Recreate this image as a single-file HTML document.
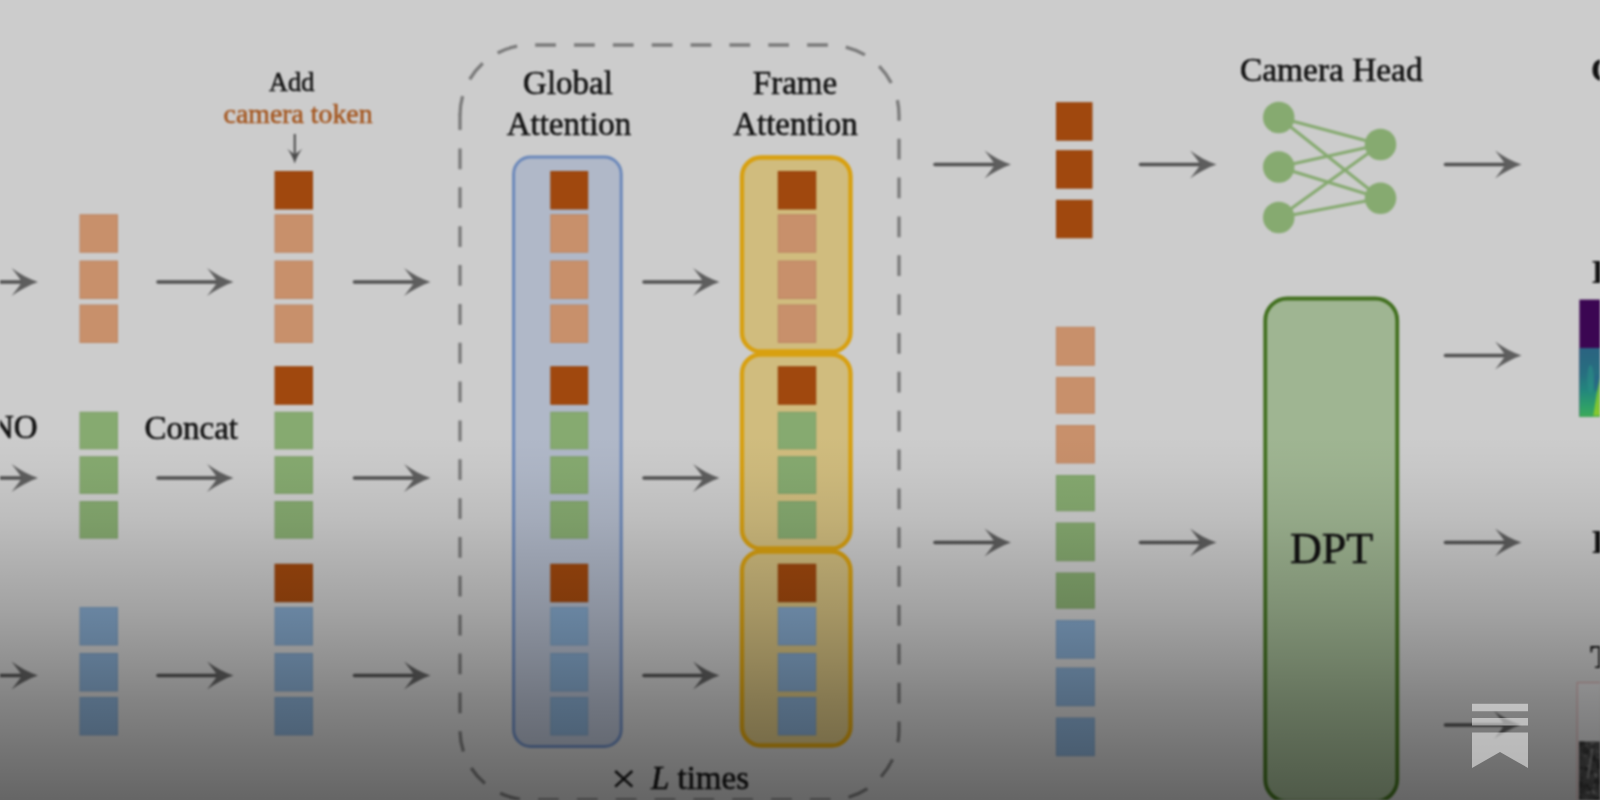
<!DOCTYPE html>
<html><head><meta charset="utf-8"><title>diagram</title>
<style>
html,body{margin:0;padding:0;background:#cccccc;}
body{width:1600px;height:800px;overflow:hidden;position:relative;font-family:"Liberation Serif",serif;}
svg{position:absolute;left:0;top:0;display:block;}
#main{filter:blur(0.8px);}
#shade{position:absolute;left:0;top:0;width:1600px;height:800px;
background:linear-gradient(to bottom, rgba(0,0,0,0) 0px, rgba(0,0,0,0) 436px, rgba(0,0,0,0.025) 470px, rgba(0,0,0,0.075) 520px, rgba(0,0,0,0.135) 560px, rgba(0,0,0,0.205) 610px, rgba(0,0,0,0.285) 660px, rgba(0,0,0,0.355) 700px, rgba(0,0,0,0.43) 750px, rgba(0,0,0,0.50) 800px);}
</style></head>
<body>
<svg id="main" width="1600" height="800" viewBox="0 0 1600 800">
<defs>
<linearGradient id="depth" x1="0" y1="0" x2="0" y2="1">
<stop offset="0" stop-color="#2b6381"/><stop offset="0.38" stop-color="#276f80"/><stop offset="0.62" stop-color="#23877d"/><stop offset="0.85" stop-color="#2e9f69"/><stop offset="1" stop-color="#3daa5a"/>
</linearGradient>
<linearGradient id="depth2" x1="0" y1="0" x2="0" y2="1">
<stop offset="0" stop-color="#4fb052"/><stop offset="0.5" stop-color="#74c03a"/><stop offset="1" stop-color="#8ac92e"/>
</linearGradient>
<clipPath id="dk"><rect x="1579" y="741.6" width="22" height="60"/></clipPath>
</defs>
<rect x="0" y="0" width="1600" height="800" fill="#cccccc"/>
<rect x="80.10" y="214.85" width="37.30" height="37.30" fill="#c8906b" stroke="#be8865" stroke-width="1.2"/>
<rect x="80.10" y="261.10" width="37.30" height="37.30" fill="#c8906b" stroke="#be8865" stroke-width="1.2"/>
<rect x="80.10" y="305.10" width="37.30" height="37.30" fill="#c8906b" stroke="#be8865" stroke-width="1.2"/>
<rect x="80.10" y="412.35" width="37.30" height="36.40" fill="#86aa70" stroke="#7fa16a" stroke-width="1.2"/>
<rect x="80.10" y="456.85" width="37.30" height="36.40" fill="#86aa70" stroke="#7fa16a" stroke-width="1.2"/>
<rect x="80.10" y="501.70" width="37.30" height="36.40" fill="#86aa70" stroke="#7fa16a" stroke-width="1.2"/>
<rect x="80.10" y="607.60" width="37.30" height="37.30" fill="#83a6c9" stroke="#7c9dbe" stroke-width="1.2"/>
<rect x="80.10" y="653.60" width="37.30" height="37.30" fill="#83a6c9" stroke="#7c9dbe" stroke-width="1.2"/>
<rect x="80.10" y="697.60" width="37.30" height="37.30" fill="#83a6c9" stroke="#7c9dbe" stroke-width="1.2"/>
<rect x="275.10" y="171.60" width="37.30" height="37.30" fill="#a0480e" stroke="#98440d" stroke-width="1.2"/>
<rect x="275.10" y="214.85" width="37.30" height="37.30" fill="#c8906b" stroke="#be8865" stroke-width="1.2"/>
<rect x="275.10" y="261.10" width="37.30" height="37.30" fill="#c8906b" stroke="#be8865" stroke-width="1.2"/>
<rect x="275.10" y="305.10" width="37.30" height="37.30" fill="#c8906b" stroke="#be8865" stroke-width="1.2"/>
<rect x="275.10" y="366.85" width="37.30" height="37.30" fill="#a0480e" stroke="#98440d" stroke-width="1.2"/>
<rect x="275.10" y="412.35" width="37.30" height="36.40" fill="#86aa70" stroke="#7fa16a" stroke-width="1.2"/>
<rect x="275.10" y="456.85" width="37.30" height="36.40" fill="#86aa70" stroke="#7fa16a" stroke-width="1.2"/>
<rect x="275.10" y="501.70" width="37.30" height="36.40" fill="#86aa70" stroke="#7fa16a" stroke-width="1.2"/>
<rect x="275.10" y="564.35" width="37.30" height="37.30" fill="#a0480e" stroke="#98440d" stroke-width="1.2"/>
<rect x="275.10" y="607.60" width="37.30" height="37.30" fill="#83a6c9" stroke="#7c9dbe" stroke-width="1.2"/>
<rect x="275.10" y="653.60" width="37.30" height="37.30" fill="#83a6c9" stroke="#7c9dbe" stroke-width="1.2"/>
<rect x="275.10" y="697.60" width="37.30" height="37.30" fill="#83a6c9" stroke="#7c9dbe" stroke-width="1.2"/>
<line x1="-18.00" y1="282.00" x2="27.50" y2="282.00" stroke="#505050" stroke-width="3.6" stroke-linecap="round"/>
<path transform="translate(37.50,282.00)" d="M0.5,0 C-8,-3 -18,-8 -26,-14 C-21.5,-8.5 -17.5,-3.5 -16,0 C-17.5,3.5 -21.5,8.5 -26,14 C-18,8 -8,3 0.5,0 Z" fill="#5e5e5e"/>
<line x1="158.00" y1="282.00" x2="223.00" y2="282.00" stroke="#505050" stroke-width="3.6" stroke-linecap="round"/>
<path transform="translate(233.00,282.00)" d="M0.5,0 C-8,-3 -18,-8 -26,-14 C-21.5,-8.5 -17.5,-3.5 -16,0 C-17.5,3.5 -21.5,8.5 -26,14 C-18,8 -8,3 0.5,0 Z" fill="#5e5e5e"/>
<line x1="354.50" y1="282.00" x2="420.00" y2="282.00" stroke="#505050" stroke-width="3.6" stroke-linecap="round"/>
<path transform="translate(430.00,282.00)" d="M0.5,0 C-8,-3 -18,-8 -26,-14 C-21.5,-8.5 -17.5,-3.5 -16,0 C-17.5,3.5 -21.5,8.5 -26,14 C-18,8 -8,3 0.5,0 Z" fill="#5e5e5e"/>
<line x1="644.00" y1="282.00" x2="709.00" y2="282.00" stroke="#505050" stroke-width="3.6" stroke-linecap="round"/>
<path transform="translate(719.00,282.00)" d="M0.5,0 C-8,-3 -18,-8 -26,-14 C-21.5,-8.5 -17.5,-3.5 -16,0 C-17.5,3.5 -21.5,8.5 -26,14 C-18,8 -8,3 0.5,0 Z" fill="#5e5e5e"/>
<line x1="-18.00" y1="478.00" x2="27.50" y2="478.00" stroke="#505050" stroke-width="3.6" stroke-linecap="round"/>
<path transform="translate(37.50,478.00)" d="M0.5,0 C-8,-3 -18,-8 -26,-14 C-21.5,-8.5 -17.5,-3.5 -16,0 C-17.5,3.5 -21.5,8.5 -26,14 C-18,8 -8,3 0.5,0 Z" fill="#5e5e5e"/>
<line x1="158.00" y1="478.00" x2="223.00" y2="478.00" stroke="#505050" stroke-width="3.6" stroke-linecap="round"/>
<path transform="translate(233.00,478.00)" d="M0.5,0 C-8,-3 -18,-8 -26,-14 C-21.5,-8.5 -17.5,-3.5 -16,0 C-17.5,3.5 -21.5,8.5 -26,14 C-18,8 -8,3 0.5,0 Z" fill="#5e5e5e"/>
<line x1="354.50" y1="478.00" x2="420.00" y2="478.00" stroke="#505050" stroke-width="3.6" stroke-linecap="round"/>
<path transform="translate(430.00,478.00)" d="M0.5,0 C-8,-3 -18,-8 -26,-14 C-21.5,-8.5 -17.5,-3.5 -16,0 C-17.5,3.5 -21.5,8.5 -26,14 C-18,8 -8,3 0.5,0 Z" fill="#5e5e5e"/>
<line x1="644.00" y1="478.00" x2="709.00" y2="478.00" stroke="#505050" stroke-width="3.6" stroke-linecap="round"/>
<path transform="translate(719.00,478.00)" d="M0.5,0 C-8,-3 -18,-8 -26,-14 C-21.5,-8.5 -17.5,-3.5 -16,0 C-17.5,3.5 -21.5,8.5 -26,14 C-18,8 -8,3 0.5,0 Z" fill="#5e5e5e"/>
<line x1="-18.00" y1="675.50" x2="27.50" y2="675.50" stroke="#505050" stroke-width="3.6" stroke-linecap="round"/>
<path transform="translate(37.50,675.50)" d="M0.5,0 C-8,-3 -18,-8 -26,-14 C-21.5,-8.5 -17.5,-3.5 -16,0 C-17.5,3.5 -21.5,8.5 -26,14 C-18,8 -8,3 0.5,0 Z" fill="#5e5e5e"/>
<line x1="158.00" y1="675.50" x2="223.00" y2="675.50" stroke="#505050" stroke-width="3.6" stroke-linecap="round"/>
<path transform="translate(233.00,675.50)" d="M0.5,0 C-8,-3 -18,-8 -26,-14 C-21.5,-8.5 -17.5,-3.5 -16,0 C-17.5,3.5 -21.5,8.5 -26,14 C-18,8 -8,3 0.5,0 Z" fill="#5e5e5e"/>
<line x1="354.50" y1="675.50" x2="420.00" y2="675.50" stroke="#505050" stroke-width="3.6" stroke-linecap="round"/>
<path transform="translate(430.00,675.50)" d="M0.5,0 C-8,-3 -18,-8 -26,-14 C-21.5,-8.5 -17.5,-3.5 -16,0 C-17.5,3.5 -21.5,8.5 -26,14 C-18,8 -8,3 0.5,0 Z" fill="#5e5e5e"/>
<line x1="644.00" y1="675.50" x2="709.00" y2="675.50" stroke="#505050" stroke-width="3.6" stroke-linecap="round"/>
<path transform="translate(719.00,675.50)" d="M0.5,0 C-8,-3 -18,-8 -26,-14 C-21.5,-8.5 -17.5,-3.5 -16,0 C-17.5,3.5 -21.5,8.5 -26,14 C-18,8 -8,3 0.5,0 Z" fill="#5e5e5e"/>
<path d="M460,148.5 V730 A70,70 0 0 0 530,800 H829 A70,70 0 0 0 899,730 V115 A70,70 0 0 0 829,45 H530 A70,70 0 0 0 460,115" fill="none" stroke="#7a7a7a" stroke-width="3.3" stroke-dasharray="20.75 18.1"/>
<line x1="460" y1="114" x2="460" y2="130" stroke="#7a7a7a" stroke-width="3.3"/>
<rect x="513.6" y="157" width="107.6" height="589.5" rx="17" ry="17" fill="#b0b8c8" stroke="#6b88ba" stroke-width="3"/>
<rect x="550.90" y="171.60" width="36.70" height="37.30" fill="#a0480e" stroke="#98440d" stroke-width="1.2"/>
<rect x="550.90" y="214.85" width="36.70" height="37.30" fill="#c8906b" stroke="#be8865" stroke-width="1.2"/>
<rect x="550.90" y="261.10" width="36.70" height="37.30" fill="#c8906b" stroke="#be8865" stroke-width="1.2"/>
<rect x="550.90" y="305.10" width="36.70" height="37.30" fill="#c8906b" stroke="#be8865" stroke-width="1.2"/>
<rect x="550.90" y="366.85" width="36.70" height="37.30" fill="#a0480e" stroke="#98440d" stroke-width="1.2"/>
<rect x="550.90" y="412.35" width="36.70" height="36.40" fill="#86aa70" stroke="#7fa16a" stroke-width="1.2"/>
<rect x="550.90" y="456.85" width="36.70" height="36.40" fill="#86aa70" stroke="#7fa16a" stroke-width="1.2"/>
<rect x="550.90" y="501.70" width="36.70" height="36.40" fill="#86aa70" stroke="#7fa16a" stroke-width="1.2"/>
<rect x="550.90" y="564.35" width="36.70" height="37.30" fill="#a0480e" stroke="#98440d" stroke-width="1.2"/>
<rect x="550.90" y="607.60" width="36.70" height="37.30" fill="#83a6c9" stroke="#7c9dbe" stroke-width="1.2"/>
<rect x="550.90" y="653.60" width="36.70" height="37.30" fill="#83a6c9" stroke="#7c9dbe" stroke-width="1.2"/>
<rect x="550.90" y="697.60" width="36.70" height="37.30" fill="#83a6c9" stroke="#7c9dbe" stroke-width="1.2"/>
<rect x="742" y="157.5" width="108.5" height="194" rx="19" ry="19" fill="#d0bc7e" stroke="#d8a010" stroke-width="4.3"/>
<rect x="742" y="354.5" width="108.5" height="194" rx="19" ry="19" fill="#d0bc7e" stroke="#d8a010" stroke-width="4.3"/>
<rect x="742" y="551.5" width="108.5" height="194" rx="19" ry="19" fill="#d0bc7e" stroke="#d8a010" stroke-width="4.3"/>
<rect x="778.35" y="171.60" width="37.30" height="37.30" fill="#a0480e" stroke="#98440d" stroke-width="1.2"/>
<rect x="778.35" y="214.85" width="37.30" height="37.30" fill="#c8906b" stroke="#be8865" stroke-width="1.2"/>
<rect x="778.35" y="261.10" width="37.30" height="37.30" fill="#c8906b" stroke="#be8865" stroke-width="1.2"/>
<rect x="778.35" y="305.10" width="37.30" height="37.30" fill="#c8906b" stroke="#be8865" stroke-width="1.2"/>
<rect x="778.35" y="366.85" width="37.30" height="37.30" fill="#a0480e" stroke="#98440d" stroke-width="1.2"/>
<rect x="778.35" y="412.35" width="37.30" height="36.40" fill="#86aa70" stroke="#7fa16a" stroke-width="1.2"/>
<rect x="778.35" y="456.85" width="37.30" height="36.40" fill="#86aa70" stroke="#7fa16a" stroke-width="1.2"/>
<rect x="778.35" y="501.70" width="37.30" height="36.40" fill="#86aa70" stroke="#7fa16a" stroke-width="1.2"/>
<rect x="778.35" y="564.35" width="37.30" height="37.30" fill="#a0480e" stroke="#98440d" stroke-width="1.2"/>
<rect x="778.35" y="607.60" width="37.30" height="37.30" fill="#83a6c9" stroke="#7c9dbe" stroke-width="1.2"/>
<rect x="778.35" y="653.60" width="37.30" height="37.30" fill="#83a6c9" stroke="#7c9dbe" stroke-width="1.2"/>
<rect x="778.35" y="697.60" width="37.30" height="37.30" fill="#83a6c9" stroke="#7c9dbe" stroke-width="1.2"/>
<line x1="935.00" y1="164.50" x2="1000.50" y2="164.50" stroke="#505050" stroke-width="3.6" stroke-linecap="round"/>
<path transform="translate(1010.50,164.50)" d="M0.5,0 C-8,-3 -18,-8 -26,-14 C-21.5,-8.5 -17.5,-3.5 -16,0 C-17.5,3.5 -21.5,8.5 -26,14 C-18,8 -8,3 0.5,0 Z" fill="#5e5e5e"/>
<line x1="1140.50" y1="164.50" x2="1206.00" y2="164.50" stroke="#505050" stroke-width="3.6" stroke-linecap="round"/>
<path transform="translate(1216.00,164.50)" d="M0.5,0 C-8,-3 -18,-8 -26,-14 C-21.5,-8.5 -17.5,-3.5 -16,0 C-17.5,3.5 -21.5,8.5 -26,14 C-18,8 -8,3 0.5,0 Z" fill="#5e5e5e"/>
<line x1="935.00" y1="542.50" x2="1000.50" y2="542.50" stroke="#505050" stroke-width="3.6" stroke-linecap="round"/>
<path transform="translate(1010.50,542.50)" d="M0.5,0 C-8,-3 -18,-8 -26,-14 C-21.5,-8.5 -17.5,-3.5 -16,0 C-17.5,3.5 -21.5,8.5 -26,14 C-18,8 -8,3 0.5,0 Z" fill="#5e5e5e"/>
<line x1="1140.50" y1="542.50" x2="1206.00" y2="542.50" stroke="#505050" stroke-width="3.6" stroke-linecap="round"/>
<path transform="translate(1216.00,542.50)" d="M0.5,0 C-8,-3 -18,-8 -26,-14 C-21.5,-8.5 -17.5,-3.5 -16,0 C-17.5,3.5 -21.5,8.5 -26,14 C-18,8 -8,3 0.5,0 Z" fill="#5e5e5e"/>
<line x1="1445.50" y1="164.50" x2="1511.00" y2="164.50" stroke="#505050" stroke-width="3.6" stroke-linecap="round"/>
<path transform="translate(1521.00,164.50)" d="M0.5,0 C-8,-3 -18,-8 -26,-14 C-21.5,-8.5 -17.5,-3.5 -16,0 C-17.5,3.5 -21.5,8.5 -26,14 C-18,8 -8,3 0.5,0 Z" fill="#5e5e5e"/>
<line x1="1445.50" y1="355.50" x2="1511.00" y2="355.50" stroke="#505050" stroke-width="3.6" stroke-linecap="round"/>
<path transform="translate(1521.00,355.50)" d="M0.5,0 C-8,-3 -18,-8 -26,-14 C-21.5,-8.5 -17.5,-3.5 -16,0 C-17.5,3.5 -21.5,8.5 -26,14 C-18,8 -8,3 0.5,0 Z" fill="#5e5e5e"/>
<line x1="1445.50" y1="542.50" x2="1511.00" y2="542.50" stroke="#505050" stroke-width="3.6" stroke-linecap="round"/>
<path transform="translate(1521.00,542.50)" d="M0.5,0 C-8,-3 -18,-8 -26,-14 C-21.5,-8.5 -17.5,-3.5 -16,0 C-17.5,3.5 -21.5,8.5 -26,14 C-18,8 -8,3 0.5,0 Z" fill="#5e5e5e"/>
<line x1="1445.50" y1="725.00" x2="1510.00" y2="725.00" stroke="#505050" stroke-width="3.6" stroke-linecap="round"/>
<path transform="translate(1520.00,725.00)" d="M0.5,0 C-8,-3 -18,-8 -26,-14 C-21.5,-8.5 -17.5,-3.5 -16,0 C-17.5,3.5 -21.5,8.5 -26,14 C-18,8 -8,3 0.5,0 Z" fill="#5e5e5e"/>
<rect x="1056.60" y="102.80" width="35.30" height="37.30" fill="#a0480e" stroke="#98440d" stroke-width="1.2"/>
<rect x="1056.60" y="150.80" width="35.30" height="37.30" fill="#a0480e" stroke="#98440d" stroke-width="1.2"/>
<rect x="1056.60" y="200.40" width="35.30" height="37.30" fill="#a0480e" stroke="#98440d" stroke-width="1.2"/>
<rect x="1056.50" y="327.35" width="37.80" height="37.80" fill="#c8906b" stroke="#be8865" stroke-width="1.2"/>
<rect x="1056.50" y="377.60" width="37.80" height="35.55" fill="#c8906b" stroke="#be8865" stroke-width="1.2"/>
<rect x="1056.50" y="425.60" width="37.80" height="37.30" fill="#c8906b" stroke="#be8865" stroke-width="1.2"/>
<rect x="1056.50" y="475.60" width="37.80" height="35.05" fill="#86aa70" stroke="#7fa16a" stroke-width="1.2"/>
<rect x="1056.50" y="523.10" width="37.80" height="37.55" fill="#86aa70" stroke="#7fa16a" stroke-width="1.2"/>
<rect x="1056.50" y="573.10" width="37.80" height="35.05" fill="#86aa70" stroke="#7fa16a" stroke-width="1.2"/>
<rect x="1056.50" y="620.60" width="37.80" height="37.55" fill="#83a6c9" stroke="#7c9dbe" stroke-width="1.2"/>
<rect x="1056.50" y="668.10" width="37.80" height="37.55" fill="#83a6c9" stroke="#7c9dbe" stroke-width="1.2"/>
<rect x="1056.50" y="718.10" width="37.80" height="37.55" fill="#83a6c9" stroke="#7c9dbe" stroke-width="1.2"/>
<line x1="1278.75" y1="117.5" x2="1380.5" y2="144.5" stroke="#86aa70" stroke-width="3"/>
<line x1="1278.75" y1="117.5" x2="1380.5" y2="198.25" stroke="#86aa70" stroke-width="3"/>
<line x1="1278.75" y1="167" x2="1380.5" y2="144.5" stroke="#86aa70" stroke-width="3"/>
<line x1="1278.75" y1="167" x2="1380.5" y2="198.25" stroke="#86aa70" stroke-width="3"/>
<line x1="1278.75" y1="217.5" x2="1380.5" y2="144.5" stroke="#86aa70" stroke-width="3"/>
<line x1="1278.75" y1="217.5" x2="1380.5" y2="198.25" stroke="#86aa70" stroke-width="3"/>
<circle cx="1278.75" cy="117.5" r="15.75" fill="#86aa70"/>
<circle cx="1278.75" cy="167" r="15.75" fill="#86aa70"/>
<circle cx="1278.75" cy="217.5" r="15.75" fill="#86aa70"/>
<circle cx="1380.5" cy="144.5" r="15.75" fill="#86aa70"/>
<circle cx="1380.5" cy="198.25" r="15.75" fill="#86aa70"/>
<rect x="1265.25" y="298.5" width="132" height="503" rx="22" ry="22" fill="#9fb592" stroke="#42701f" stroke-width="3.8"/>
<g>
<rect x="1579.4" y="299.6" width="22" height="117.2" fill="#3b0652"/>
<rect x="1579.4" y="348" width="22" height="68.8" fill="url(#depth)"/>
<ellipse cx="1590.5" cy="379" rx="3.2" ry="14" fill="#2b9286" opacity="0.55"/>
<ellipse cx="1596.5" cy="383" rx="2.5" ry="9" fill="#2b5c8a" opacity="0.55"/>
<path d="M1601,373 L1597,392 L1593.2,416.8 L1601,416.8 Z" fill="url(#depth2)"/>
<rect x="1579.4" y="415.3" width="22" height="1.5" fill="#3fae55" opacity="0.7"/>
</g>
<g>
<rect x="1577.2" y="682.6" width="24" height="120" fill="#d3d3d4" stroke="#c99e9e" stroke-width="1.1"/>
<rect x="1579" y="741.6" width="22" height="60" fill="#4a4a4a"/>
<g clip-path="url(#dk)"><ellipse cx="1585.8" cy="750.7" rx="2.2" ry="1.3" fill="#343434" transform="rotate(-28 1585.8 750.7)"/><ellipse cx="1586.7" cy="745.4" rx="1.9" ry="1.1" fill="#5c5c5c" transform="rotate(13 1586.7 745.4)"/><ellipse cx="1580.5" cy="747.3" rx="1.7" ry="3.9" fill="#383838" transform="rotate(-12 1580.5 747.3)"/><ellipse cx="1592.2" cy="775.8" rx="0.9" ry="3.0" fill="#303030" transform="rotate(-12 1592.2 775.8)"/><ellipse cx="1580.0" cy="791.8" rx="1.4" ry="1.5" fill="#383838" transform="rotate(33 1580.0 791.8)"/><ellipse cx="1585.5" cy="789.3" rx="1.2" ry="3.0" fill="#505050" transform="rotate(7 1585.5 789.3)"/><ellipse cx="1581.0" cy="783.3" rx="2.0" ry="3.2" fill="#404040" transform="rotate(28 1581.0 783.3)"/><ellipse cx="1588.0" cy="760.2" rx="2.1" ry="2.6" fill="#6a6a6a" transform="rotate(-9 1588.0 760.2)"/><ellipse cx="1595.7" cy="782.5" rx="1.3" ry="3.0" fill="#343434" transform="rotate(23 1595.7 782.5)"/><ellipse cx="1597.4" cy="784.3" rx="1.4" ry="4.4" fill="#383838" transform="rotate(25 1597.4 784.3)"/><ellipse cx="1587.8" cy="785.9" rx="1.1" ry="2.7" fill="#303030" transform="rotate(-31 1587.8 785.9)"/><ellipse cx="1595.1" cy="775.2" rx="2.7" ry="2.1" fill="#7c7c7c" transform="rotate(36 1595.1 775.2)"/><ellipse cx="1589.4" cy="788.2" rx="1.0" ry="1.3" fill="#6a6a6a" transform="rotate(20 1589.4 788.2)"/><ellipse cx="1593.6" cy="745.8" rx="2.4" ry="2.1" fill="#404040" transform="rotate(-4 1593.6 745.8)"/><ellipse cx="1594.0" cy="793.4" rx="1.6" ry="4.3" fill="#7c7c7c" transform="rotate(-19 1594.0 793.4)"/><ellipse cx="1591.8" cy="770.6" rx="1.3" ry="2.0" fill="#505050" transform="rotate(10 1591.8 770.6)"/><ellipse cx="1587.2" cy="792.5" rx="1.0" ry="2.6" fill="#343434" transform="rotate(-5 1587.2 792.5)"/><ellipse cx="1597.6" cy="789.5" rx="2.7" ry="2.0" fill="#5c5c5c" transform="rotate(5 1597.6 789.5)"/><ellipse cx="1593.3" cy="764.1" rx="1.3" ry="1.3" fill="#444444" transform="rotate(-11 1593.3 764.1)"/><ellipse cx="1592.8" cy="742.7" rx="2.6" ry="1.6" fill="#6a6a6a" transform="rotate(-40 1592.8 742.7)"/><ellipse cx="1582.1" cy="773.0" rx="2.1" ry="2.1" fill="#444444" transform="rotate(25 1582.1 773.0)"/><ellipse cx="1599.0" cy="780.0" rx="2.4" ry="2.6" fill="#343434" transform="rotate(10 1599.0 780.0)"/><ellipse cx="1587.4" cy="764.9" rx="1.9" ry="2.4" fill="#505050" transform="rotate(-32 1587.4 764.9)"/><ellipse cx="1599.7" cy="767.6" rx="1.0" ry="3.1" fill="#383838" transform="rotate(-40 1599.7 767.6)"/><ellipse cx="1590.9" cy="773.1" rx="2.9" ry="3.1" fill="#383838" transform="rotate(-14 1590.9 773.1)"/><ellipse cx="1591.9" cy="750.6" rx="1.4" ry="2.2" fill="#7c7c7c" transform="rotate(20 1591.9 750.6)"/><ellipse cx="1581.6" cy="791.2" rx="3.0" ry="2.6" fill="#404040" transform="rotate(-1 1581.6 791.2)"/><ellipse cx="1580.8" cy="747.9" rx="1.6" ry="1.9" fill="#444444" transform="rotate(26 1580.8 747.9)"/><ellipse cx="1579.5" cy="797.2" rx="2.0" ry="1.5" fill="#343434" transform="rotate(-37 1579.5 797.2)"/><ellipse cx="1594.9" cy="759.3" rx="2.2" ry="1.3" fill="#6a6a6a" transform="rotate(26 1594.9 759.3)"/><ellipse cx="1586.7" cy="751.7" rx="2.5" ry="2.9" fill="#343434" transform="rotate(2 1586.7 751.7)"/><ellipse cx="1592.4" cy="777.6" rx="2.5" ry="3.7" fill="#505050" transform="rotate(-10 1592.4 777.6)"/><ellipse cx="1596.2" cy="784.9" rx="1.3" ry="2.8" fill="#7c7c7c" transform="rotate(-37 1596.2 784.9)"/><ellipse cx="1599.8" cy="787.8" rx="1.8" ry="1.7" fill="#7c7c7c" transform="rotate(17 1599.8 787.8)"/><ellipse cx="1596.0" cy="783.9" rx="1.6" ry="4.4" fill="#383838" transform="rotate(-12 1596.0 783.9)"/><ellipse cx="1581.1" cy="769.3" rx="1.5" ry="2.7" fill="#303030" transform="rotate(21 1581.1 769.3)"/><ellipse cx="1598.1" cy="762.0" rx="2.2" ry="3.9" fill="#383838" transform="rotate(9 1598.1 762.0)"/><ellipse cx="1595.4" cy="785.5" rx="1.9" ry="1.6" fill="#7c7c7c" transform="rotate(-29 1595.4 785.5)"/><ellipse cx="1595.8" cy="798.4" rx="1.7" ry="2.4" fill="#383838" transform="rotate(-20 1595.8 798.4)"/><ellipse cx="1582.6" cy="749.4" rx="1.1" ry="4.2" fill="#444444" transform="rotate(38 1582.6 749.4)"/><ellipse cx="1596.4" cy="798.9" rx="2.2" ry="2.2" fill="#343434" transform="rotate(30 1596.4 798.9)"/><ellipse cx="1581.8" cy="742.8" rx="2.9" ry="3.3" fill="#343434" transform="rotate(-23 1581.8 742.8)"/><ellipse cx="1588.1" cy="792.6" rx="2.6" ry="1.7" fill="#6a6a6a" transform="rotate(-13 1588.1 792.6)"/><ellipse cx="1585.2" cy="756.0" rx="2.1" ry="1.9" fill="#5c5c5c" transform="rotate(-24 1585.2 756.0)"/><ellipse cx="1580.3" cy="784.9" rx="2.8" ry="3.3" fill="#343434" transform="rotate(13 1580.3 784.9)"/><ellipse cx="1596.4" cy="792.9" rx="1.1" ry="1.5" fill="#343434" transform="rotate(-38 1596.4 792.9)"/><ellipse cx="1597.3" cy="787.0" rx="2.1" ry="3.7" fill="#444444" transform="rotate(-18 1597.3 787.0)"/><ellipse cx="1582.0" cy="777.9" rx="1.1" ry="1.2" fill="#343434" transform="rotate(27 1582.0 777.9)"/><ellipse cx="1590.7" cy="787.5" rx="1.0" ry="3.0" fill="#505050" transform="rotate(-16 1590.7 787.5)"/><ellipse cx="1584.8" cy="786.8" rx="1.9" ry="3.0" fill="#383838" transform="rotate(16 1584.8 786.8)"/><ellipse cx="1585.8" cy="798.5" rx="2.1" ry="1.7" fill="#6a6a6a" transform="rotate(17 1585.8 798.5)"/><ellipse cx="1589.7" cy="788.8" rx="1.9" ry="1.9" fill="#343434" transform="rotate(-7 1589.7 788.8)"/><ellipse cx="1598.4" cy="793.8" rx="1.2" ry="2.6" fill="#5c5c5c" transform="rotate(-25 1598.4 793.8)"/><ellipse cx="1587.2" cy="760.3" rx="2.3" ry="2.5" fill="#505050" transform="rotate(-2 1587.2 760.3)"/><ellipse cx="1595.5" cy="794.0" rx="1.1" ry="3.5" fill="#7c7c7c" transform="rotate(-22 1595.5 794.0)"/><ellipse cx="1584.3" cy="750.0" rx="1.8" ry="3.6" fill="#383838" transform="rotate(10 1584.3 750.0)"/><ellipse cx="1597.6" cy="751.4" rx="2.3" ry="1.8" fill="#5c5c5c" transform="rotate(25 1597.6 751.4)"/><ellipse cx="1587.5" cy="766.4" rx="1.6" ry="1.3" fill="#7c7c7c" transform="rotate(-38 1587.5 766.4)"/><ellipse cx="1586.1" cy="768.6" rx="2.3" ry="2.3" fill="#343434" transform="rotate(39 1586.1 768.6)"/><ellipse cx="1585.2" cy="797.7" rx="1.0" ry="4.2" fill="#505050" transform="rotate(-27 1585.2 797.7)"/><ellipse cx="1580.8" cy="757.8" rx="2.8" ry="1.6" fill="#444444" transform="rotate(14 1580.8 757.8)"/><ellipse cx="1596.8" cy="781.2" rx="2.9" ry="2.4" fill="#343434" transform="rotate(25 1596.8 781.2)"/><ellipse cx="1591.0" cy="782.6" rx="1.0" ry="1.2" fill="#444444" transform="rotate(14 1591.0 782.6)"/><ellipse cx="1597.8" cy="757.6" rx="0.8" ry="1.3" fill="#6a6a6a" transform="rotate(-30 1597.8 757.6)"/><ellipse cx="1591.8" cy="754.9" rx="1.4" ry="1.4" fill="#303030" transform="rotate(3 1591.8 754.9)"/><ellipse cx="1599.9" cy="766.2" rx="2.8" ry="3.2" fill="#303030" transform="rotate(27 1599.9 766.2)"/><ellipse cx="1593.9" cy="796.4" rx="2.9" ry="1.9" fill="#444444" transform="rotate(-15 1593.9 796.4)"/><ellipse cx="1598.6" cy="778.5" rx="2.0" ry="1.7" fill="#404040" transform="rotate(24 1598.6 778.5)"/><ellipse cx="1593.1" cy="757.7" rx="2.6" ry="4.5" fill="#303030" transform="rotate(-39 1593.1 757.7)"/><ellipse cx="1579.4" cy="771.3" rx="3.0" ry="2.8" fill="#505050" transform="rotate(17 1579.4 771.3)"/>
<path d="M1591,752 L1586.5,778 L1589,779 L1593,753 Z" fill="#8a8a8a" opacity="0.8"/>
</g>
</g>

<g font-family="Liberation Serif, serif" fill="#111" font-size="33" stroke="#111" stroke-width="0.55">
<text x="269" y="90.5" font-size="26.3">Add</text>
<text x="223.6" y="123.2" font-size="27.8" fill="#a4561f" stroke="#a4561f">camera token</text>
<text x="144.5" y="438.6">Concat</text>
<text x="37.6" y="438.4" text-anchor="end">DINO</text>
<text x="568" y="94" text-anchor="middle">Global</text>
<text x="569" y="135" text-anchor="middle">Attention</text>
<text x="795" y="94" text-anchor="middle">Frame</text>
<text x="795.5" y="135" text-anchor="middle">Attention</text>
<text x="1240" y="80.5" font-size="33.4">Camera Head</text>
<text x="1331.5" y="563" text-anchor="middle" font-size="44">DPT</text>

<text x="651" y="788.5" font-style="italic">L</text>
<text x="677.5" y="788.5">times</text>
<g font-weight="bold" stroke-width="0.15">
<text x="1591" y="81">Camera</text>
<text x="1592" y="282.5">Depth</text>
<text x="1592" y="552.5">Point</text>
<text x="1590" y="667.5">Tracks</text>
</g>
</g>

<!-- small down arrow -->
<line x1="294.75" y1="134" x2="294.75" y2="159" stroke="#484848" stroke-width="2"/>
<path d="M294.75,163.8 C293.2,158 290.5,153 287.2,148.8 C290.3,151.2 293,153.4 294.75,154.6 C296.5,153.4 299.2,151.2 302.3,148.8 C299,153 296.3,158 294.75,163.8 Z" fill="#4c4c4c"/>
<!-- times symbol -->
<path d="M615.2,771 L632.3,786.6 M632.3,771 L615.2,786.6" stroke="#151515" stroke-width="2.5" fill="none"/>
</svg>
<div id="shade"></div>
<svg width="1600" height="800" viewBox="0 0 1600 800">
<g fill="rgba(255,255,255,0.5)">
<rect x="1472" y="703.75" width="56" height="7.5"/>
<rect x="1472" y="718" width="56" height="7.5"/>
<path d="M1472,732.5 H1528 V768 L1500,752 L1472,768 Z"/>
</g>
</svg>
</body></html>
